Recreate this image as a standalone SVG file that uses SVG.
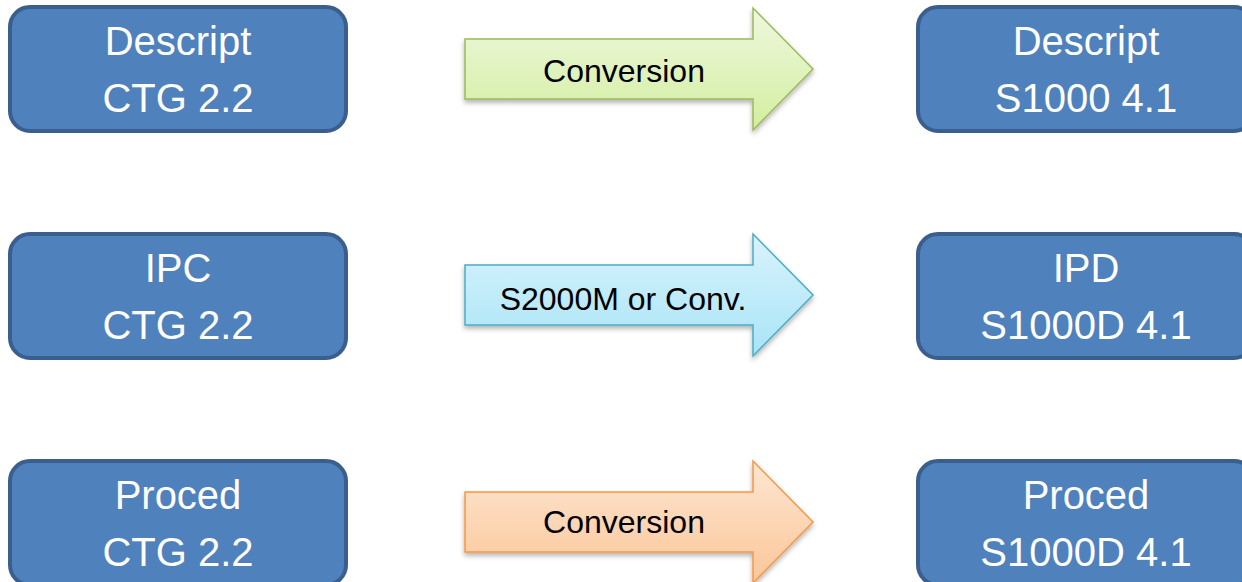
<svg xmlns="http://www.w3.org/2000/svg" width="1242" height="582" viewBox="0 0 1242 582">
<style>
.box{fill:#4f81bd;stroke:#3a5f8e;stroke-width:4}
.bt{font-family:"Liberation Sans",Arial,sans-serif;font-size:40px;fill:#ffffff;text-anchor:middle}
.at{font-family:"Liberation Sans",Arial,sans-serif;font-size:32px;fill:#000000;text-anchor:middle}
.arr{stroke-width:1.5;filter:url(#sh)}
</style>
<defs>
<filter id="sh" x="-10%" y="-10%" width="120%" height="130%">
<feDropShadow dx="0" dy="3" stdDeviation="2.5" flood-color="#000" flood-opacity="0.3"/>
</filter>
<linearGradient id="gG" x1="0" y1="0" x2="0" y2="1">
<stop offset="0" stop-color="#eef8df"/><stop offset="1" stop-color="#d3ee9f"/>
</linearGradient>
<linearGradient id="gB" x1="0" y1="0" x2="0" y2="1">
<stop offset="0" stop-color="#d9f3fc"/><stop offset="1" stop-color="#a8e4f7"/>
</linearGradient>
<linearGradient id="gO" x1="0" y1="0" x2="0" y2="1">
<stop offset="0" stop-color="#fde6d2"/><stop offset="1" stop-color="#fbc698"/>
</linearGradient>
</defs>
<g id="n1"><rect class="box" x="10" y="7" width="336" height="124" rx="20"/><text class="bt" x="178" y="55">Descript</text><text class="bt" x="178" y="112">CTG 2.2</text></g>
<g id="n2"><rect class="box" x="918" y="7" width="336" height="124" rx="20"/><text class="bt" x="1086" y="55">Descript</text><text class="bt" x="1086" y="112">S1000 4.1</text></g>
<g id="n3"><rect class="box" x="10" y="234" width="336" height="124" rx="20"/><text class="bt" x="178" y="282">IPC</text><text class="bt" x="178" y="339">CTG 2.2</text></g>
<g id="n4"><rect class="box" x="918" y="234" width="336" height="124" rx="20"/><text class="bt" x="1086" y="282">IPD</text><text class="bt" x="1086" y="339">S1000D 4.1</text></g>
<g id="n5"><rect class="box" x="10" y="461" width="336" height="124" rx="20"/><text class="bt" x="178" y="509">Proced</text><text class="bt" x="178" y="566">CTG 2.2</text></g>
<g id="n6"><rect class="box" x="918" y="461" width="336" height="124" rx="20"/><text class="bt" x="1086" y="509">Proced</text><text class="bt" x="1086" y="566">S1000D 4.1</text></g>
<g id="connectors">
<g id="a1"><path class="arr" d="M465,39 H753 V8 L813,69 L753,130 V99 H465 Z" fill="url(#gG)" stroke="#9bbb59"/><text class="at" x="624" y="82">Conversion</text></g>
<g id="a2"><path class="arr" d="M465,265 H753 V234 L813,295 L753,356 V325 H465 Z" fill="url(#gB)" stroke="#4bacc6"/><text class="at" x="623" y="310">S2000M or Conv.</text></g>
<g id="a3"><path class="arr" d="M465,492 H753 V461 L813,522 L753,583 V552 H465 Z" fill="url(#gO)" stroke="#f79646"/><text class="at" x="624" y="533">Conversion</text></g>
</g>
</svg>
